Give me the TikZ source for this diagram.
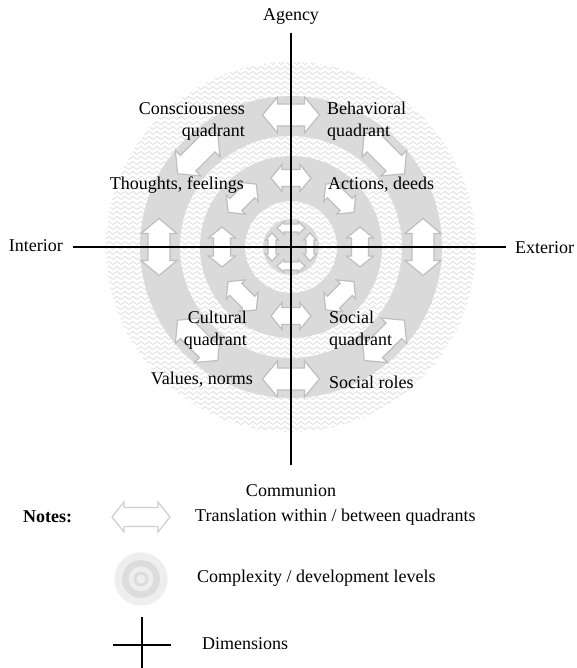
\documentclass[tikz,border=0pt]{standalone}
\usepackage{fontspec}
\setmainfont{Liberation Serif}
\usetikzlibrary{decorations.pathmorphing}

\definecolor{ringgray}{HTML}{DADADA}
\definecolor{wavegray}{HTML}{DCDCDC}
\definecolor{arrowedge}{HTML}{BEBEBE}
\definecolor{legendedge}{HTML}{CFCFCF}
\definecolor{iconlight}{HTML}{EEEEEE}
\definecolor{icondark}{HTML}{DCDCDC}

\tikzset{
  lbl/.style={inner sep=0pt, font=\fontsize{18}{22}\selectfont},
  axisline/.style={line width=2pt, black},
  arrowbox/.style={draw=arrowedge, fill=white, line width=1.2pt, line join=miter},
  wave/.style={wavegray, line width=0.7pt,
    decorate, decoration={zigzag, segment length=8pt, amplitude=1.5pt}},
}

% double block arrow: #1 centre, #2 rotation, #3 half length, #4 head length,
% #5 head half width, #6 shaft half width, #7 style
\newcommand\dblarr[7]{%
  \draw[#7, shift={(#1)}, rotate=#2]
    (-#3,0) -- (-#3+#4,#5) -- (-#3+#4,#6) -- (#3-#4,#6) -- (#3-#4,#5)
    -- (#3,0) -- (#3-#4,-#5) -- (#3-#4,-#6) -- (-#3+#4,-#6) -- (-#3+#4,-#5) -- cycle;}

\begin{document}
\begin{tikzpicture}[x=1pt, y=1pt]
\useasboundingbox (-291,-421) rectangle (285,247);

% wavy background disk
\begin{scope}
  \clip (0,0) circle (185);
  \foreach \yy in {-186,-181,...,186}
    \draw[wave] (-192,\yy) -- (192,\yy);
\end{scope}

% development levels
\fill[ringgray, even odd rule] (0,0) circle (151) (0,0) circle (111);
\fill[ringgray, even odd rule] (0,0) circle (91) (0,0) circle (46);
\fill[ringgray] (0,0) circle (28);

% translation arrows, outer level
\foreach \t in {0,45,...,315}
  {\dblarr{\t:132}{\t+90}{28.5}{15}{18}{11}{arrowbox}}
% translation arrows, middle level
\foreach \t in {0,45,...,315}
  {\dblarr{\t:69}{\t+90}{20}{11}{13.5}{8.5}{arrowbox}}
% translation arrows, centre
\foreach \t in {0,90,180,270}
  {\dblarr{\t:19}{\t+90}{14}{7}{6.5}{4}{arrowbox}}

% dimensions
\coordinate (ntop) at (0,214);
\coordinate (nbot) at (0,-218);
\coordinate (nleft) at (-218,0);
\coordinate (nright) at (215,0);
\draw[axisline] (ntop) -- (nbot);
\draw[axisline] (nleft) -- (nright);

\node[lbl] (agency) at (0,230) {Agency};
\node[lbl] (communion) at (0,-244) {Communion};
\node[lbl, anchor=east] (interior) at (-228,1) {Interior};
\node[lbl, anchor=west] (exterior) at (224,-1) {Exterior};

% quadrant labels
\node[lbl, anchor=east, align=right] (cons) at (-46,126) {Consciousness\\quadrant};
\node[lbl, anchor=west, align=left] (behav) at (36,126) {Behavioral\\quadrant};
\node[lbl, anchor=east] (thoughts) at (-47,62) {Thoughts, feelings};
\node[lbl, anchor=west] (actions) at (37,62) {Actions, deeds};
\node[lbl, anchor=east, align=right] (cult) at (-44,-83) {Cultural\\quadrant};
\node[lbl, anchor=west, align=left] (soc) at (38,-83) {Social\\quadrant};
\node[lbl, anchor=east] (values) at (-38,-133) {Values, norms};
\node[lbl, anchor=west] (roles) at (38,-135) {Social roles};

% notes
\node[lbl, anchor=west, font=\fontsize{18}{22}\selectfont\bfseries] (notes) at (-268,-270) {Notes:};
\dblarr{-150,-270}{0}{29}{12}{15}{9.5}{draw=legendedge, fill=white, line width=1.2pt}
\node[lbl, anchor=west] (ltrans) at (-96,-270) {Translation within / between quadrants};

\fill[iconlight] (-150,-332) circle (26.7);
\fill[icondark] (-150,-332) circle (19);
\fill[iconlight] (-150,-332) circle (12.5);
\fill[icondark] (-150,-332) circle (7.5);
\fill[iconlight] (-150,-332) circle (4.5);
\node[lbl, anchor=west] (llevels) at (-94,-331) {Complexity / development levels};

\coordinate (ch1) at (-178,-398);
\coordinate (ch2) at (-120,-398);
\coordinate (cv1) at (-149,-370);
\coordinate (cv2) at (-149,-421);
\draw[axisline] (ch1) -- (ch2);
\draw[axisline] (cv1) -- (cv2);
\node[lbl, anchor=west] (ldim) at (-89,-397) {Dimensions};
\end{tikzpicture}
\end{document}
